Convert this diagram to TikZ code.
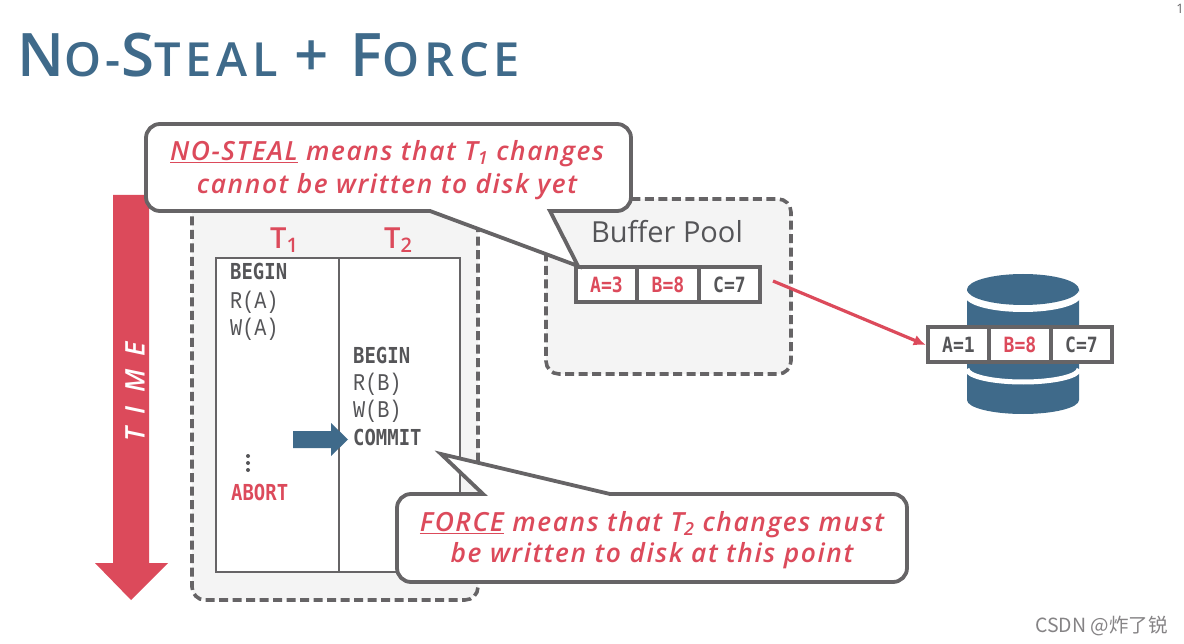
\documentclass[tikz,border=0pt]{standalone}
\usepackage{fontspec}
\usetikzlibrary{arrows.meta}
\setmainfont{Open Sans}
\newfontfamily\titlefont[LetterSpace=10.2]{Open Sans Semibold}
\newfontfamily\medfont{Open Sans Semibold}
\newfontfamily\calloutfont[LetterSpace=6]{Open Sans Semibold}[ItalicFont={Open Sans Semibold Italic}]
\newfontfamily\monoreg[FakeStretch=0.84]{Liberation Mono}
\newfontfamily\monobold[FakeStretch=0.86]{DejaVu Sans Mono}
\newfontfamily\cjkfont{Noto Sans CJK SC}
\definecolor{dbred}{HTML}{DC4A5B}
\definecolor{dbblue}{HTML}{3F6A8A}
\definecolor{dbgray}{HTML}{666466}
\definecolor{dbtext}{HTML}{555558}
\definecolor{dbpane}{HTML}{F4F4F4}
\newcommand{\fs}[1]{\fontsize{#1}{#1}\selectfont}
\newcommand{\subnum}[2]{\raisebox{-0.3ex}{\fs{#1}#2}}
\tikzset{
  pane/.style={fill=dbpane,draw=dbgray,line width=3.6pt,dash pattern=on 9pt off 4.5pt,rounded corners=13pt},
  callout/.style={fill=white,draw=dbgray,line width=3.8pt,line join=miter,miter limit=6},
  cell/.style={draw=dbgray,line width=4pt,fill=white,minimum width=61.5pt,minimum height=35pt,inner sep=0pt,font=\monobold\bfseries\fs{21},text=dbtext},
  cellred/.style={cell,text=dbred},
  opreg/.style={anchor=west,inner sep=0pt,font=\monoreg\fs{24},text=dbtext},
  opbold/.style={anchor=west,inner sep=0pt,font=\monobold\bfseries\fs{22},text=dbtext},
  txtlabel/.style={inner sep=0pt,text=dbred,font=\medfont\fs{29}},
  calltext/.style={inner sep=0pt,align=center,text=dbred,font=\calloutfont\itshape\fs{26.4}}
}
\begin{document}
\begin{tikzpicture}[x=1pt,y=-1pt]
\useasboundingbox (0,0) rectangle (1184,644);
\fill[white] (0,0) rectangle (1184,644);
% title
\node[anchor=base west,inner sep=0pt,text=dbblue,font=\titlefont] (title) at (17,77) {\fs{60}N\fs{47}O-\fs{60}S\fs{47}TEAL \fs{60}+ F\fs{47}ORCE};
\node[inner sep=0pt,text=dbgray,font=\fs{13}] (pagenum) at (1180,9) {1};
% time arrow
\fill[dbred] (113,195) -- (149,195) -- (149,563) -- (168,563) -- (131,600) -- (95,563) -- (113,563) -- cycle;
\node[rotate=90,inner sep=0pt,text=white,font=\calloutfont\itshape\fs{27}] (time) at (135,392) {T\,\,\,I\,\,\,M\,\,\,E};
% transaction pane
\draw[pane] (192,190) rectangle (478,600);
\draw[fill=white,draw=dbgray,line width=2pt] (216,258) rectangle (460,572);
\draw[draw=dbgray,line width=2pt] (339,258) -- (339,572);
\node[txtlabel] (t1) at (284,240) {T\subnum{20}{1}};
\node[txtlabel] (t2) at (398,240) {T\subnum{20}{2}};
\node[opbold] (b1) at (230,271) {BEGIN};
\node[opreg] (ra) at (230,302) {R(A)};
\node[opreg] (wa) at (230,329) {W(A)};
\node[opbold] (b2) at (353,355) {BEGIN};
\node[opreg] (rb) at (353,384) {R(B)};
\node[opreg] (wb) at (353,411) {W(B)};
\node[opbold] (co) at (353,437) {COMMIT};
\node[opbold,text=dbred] (ab) at (231,492) {ABORT};
\fill[dbtext] (248,456) circle (2pt) (248,463) circle (2pt) (248,470) circle (2pt);
\fill[dbblue] (293,431) -- (331,431) -- (331,423) -- (348,439.5) -- (331,456) -- (331,448) -- (293,448) -- cycle;
% buffer pool
\draw[pane] (546,199) rectangle (791,374);
\node[inner sep=0pt,text=dbtext,font=\fs{29}] (bp) at (667,232) {Buffer Pool};
\node[cellred] (a3) at (606.5,285) {A=3};
\node[cellred] (b8) at (668,285) {B=8};
\node[cell] (c7) at (729.5,285) {C=7};
% database
\fill[dbblue] (967,290) -- (1079,290) -- (1079,400) arc[start angle=0,end angle=-180,x radius=56pt,y radius=14pt] -- cycle;
\fill[white] (1023,296) ellipse [x radius=58pt,y radius=16pt];
\fill[dbblue] (1023,289.5) ellipse [x radius=56pt,y radius=15.5pt];
\draw[white,line width=5pt] (967,369) arc[start angle=180,end angle=360,x radius=56pt,y radius=13pt];
\node[cell] (a1) at (958.5,345) {A=1};
\node[cellred] (b8d) at (1020,345) {B=8};
\node[cell] (c7d) at (1081.5,345) {C=7};
% write arrow
\coordinate (wstart) at (773,281);
\draw[dbred,line width=3.2pt,-{Latex[length=12pt,width=11pt]}] (wstart) -- (a1.west);
% callouts
\draw[callout] (160,124) -- (617,124) arc[start angle=90,end angle=0,radius=14pt] -- (631,197) arc[start angle=0,end angle=-90,radius=14pt] -- (550,211) -- (578,266) -- (430,211) -- (160,211) arc[start angle=270,end angle=180,radius=14pt] -- (146,138) arc[start angle=180,end angle=90,radius=14pt] -- cycle;
\node[calltext] (c1) at (387,170) {\underline{NO-STEAL} means that T\subnum{18}{\itshape 1} changes\\[6pt]cannot be written to disk yet};
\draw[callout] (411,494) -- (483,494) -- (441,454) -- (610,494) -- (893,494) arc[start angle=90,end angle=0,radius=14pt] -- (907,568) arc[start angle=0,end angle=-90,radius=14pt] -- (411,582) arc[start angle=270,end angle=180,radius=14pt] -- (397,508) arc[start angle=180,end angle=90,radius=14pt] -- cycle;
\node[calltext] (c2) at (652,540) {\underline{FORCE} means that T\subnum{18}{\itshape 2} changes must\\[4pt]be written to disk at this point};
% watermark
\node[anchor=east,inner sep=0pt,text=dbgray!80,font=\cjkfont\fs{19.5}] (wm) at (1168,626) {CSDN @炸了锐};
\end{tikzpicture}
\end{document}
